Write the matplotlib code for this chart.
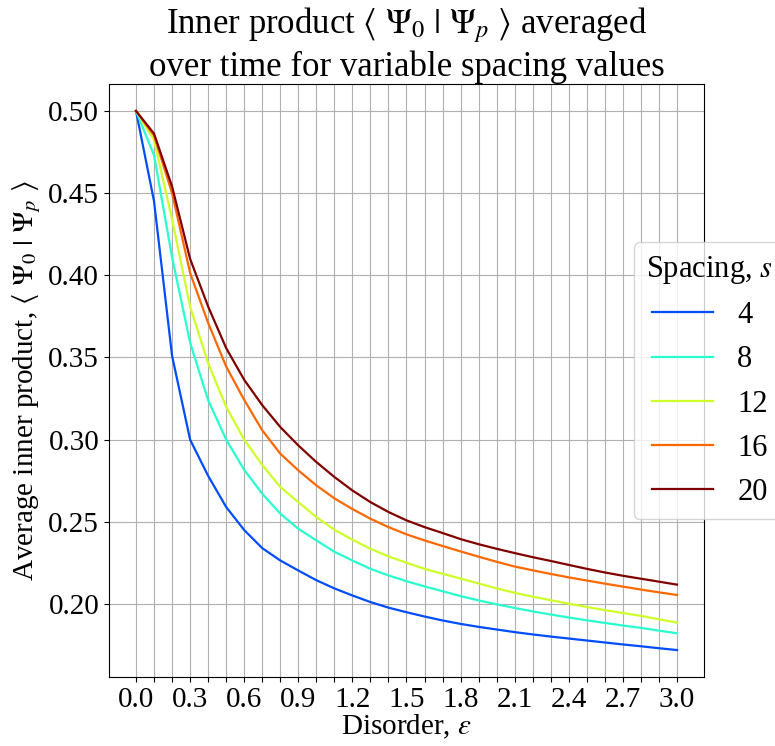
import numpy as np
import matplotlib
matplotlib.use("Agg")
import matplotlib.pyplot as plt

plt.rcParams['font.family'] = ['Liberation Serif', 'DejaVu Serif']
plt.rcParams['mathtext.fontset'] = 'stix'

disorder = np.round(np.arange(0, 3.01, 0.1), 1)
spacings = [4, 8, 12, 16, 20]

s4 = [0.500, 0.445, 0.351, 0.300, 0.278, 0.259, 0.245, 0.234, 0.2265, 0.2204,
      0.2145, 0.2095, 0.2052, 0.2012, 0.1978, 0.1950, 0.1924, 0.1900, 0.1879, 0.1861,
      0.1845, 0.1829, 0.1815, 0.1802, 0.1790, 0.1778, 0.1766, 0.1754, 0.1743, 0.1731,
      0.1720]
s8 = [0.500, 0.473, 0.411, 0.359, 0.324, 0.300, 0.2816, 0.2671, 0.2550, 0.2458,
      0.2387, 0.2318, 0.2265, 0.2214, 0.2174, 0.2139, 0.2107, 0.2078, 0.2048, 0.2022,
      0.1998, 0.1976, 0.1955, 0.1936, 0.1918, 0.1901, 0.1885, 0.1869, 0.1855, 0.1838,
      0.1822]
s12 = [0.500, 0.4824, 0.434, 0.381, 0.3465, 0.320, 0.300, 0.2846, 0.2712, 0.2620,
       0.2529, 0.2452, 0.2391, 0.2336, 0.2290, 0.2251, 0.2214, 0.2184, 0.2155, 0.2125,
       0.2095, 0.2068, 0.2045, 0.2023, 0.2002, 0.1982, 0.1963, 0.1945, 0.1928, 0.1907,
       0.1887]
s16 = [0.500, 0.485, 0.450, 0.4015, 0.371, 0.3445, 0.3242, 0.3057, 0.2915, 0.2813,
       0.2722, 0.2643, 0.2578, 0.2519, 0.2468, 0.2424, 0.2387, 0.2353, 0.2320, 0.2288,
       0.2257, 0.2228, 0.2205, 0.2183, 0.2162, 0.2143, 0.2124, 0.2106, 0.2088, 0.2071,
       0.2055]
s20 = [0.500, 0.4862, 0.454, 0.410, 0.381, 0.3557, 0.3364, 0.321, 0.3077, 0.2965,
       0.2864, 0.2773, 0.2691, 0.2620, 0.2560, 0.2509, 0.2468, 0.2432, 0.2395, 0.2364,
       0.2336, 0.2310, 0.2285, 0.2262, 0.2238, 0.2214, 0.2192, 0.2172, 0.2154, 0.2136,
       0.2118]
series = [s4, s8, s12, s16, s20]

fig = plt.figure(figsize=(7.75, 7.46), dpi=100)
ax = fig.add_axes([0.1406, 0.0925, 0.7678, 0.7949])

cmap = plt.get_cmap('jet')
for s, vals in zip(spacings, series):
    ax.plot(disorder, vals, color=cmap(s / 20), linewidth=1.6, label=str(s))

ax.set_xticks(disorder)
ax.set_xticklabels([f"{v:.1f}" if i % 3 == 0 else "" for i, v in enumerate(disorder)])
yt = [0.20, 0.25, 0.30, 0.35, 0.40, 0.45, 0.50]
ax.set_yticks(yt)
ax.set_yticklabels([f"{v:.2f}" for v in yt])
ax.tick_params(labelsize=21)
ax.grid(True)

ax.set_xlabel(r"Disorder, $\varepsilon$", fontsize=21, labelpad=0)
ax.set_ylabel(r"Average inner product, $\langle\ \Psi_0\ |\ \Psi_p\ \rangle$", fontsize=21)
ax.set_title("Inner product $\\langle\\ \\Psi_0\\ |\\ \\Psi_p\\ \\rangle$ averaged\n"
             "over time for variable spacing values", fontsize=25, pad=3)

ax.legend(title=r"Spacing, $s$", fontsize=22, title_fontsize=22,
          loc='center left', bbox_to_anchor=(0.857, 0.5))

fig.savefig("out.png", dpi=100)
